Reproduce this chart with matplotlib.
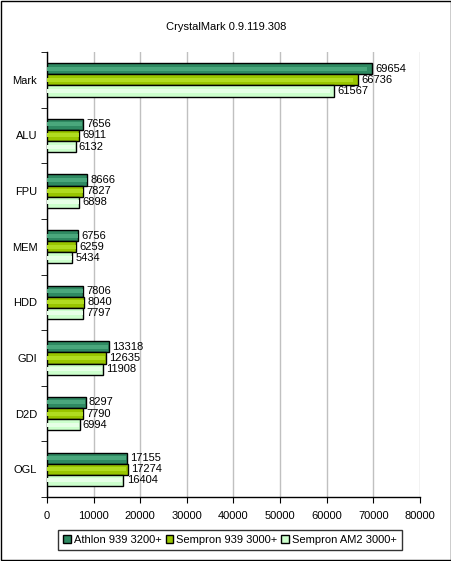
import matplotlib
matplotlib.use("Agg")
import matplotlib.pyplot as plt
import numpy as np

plt.rcParams['font.family'] = ['Liberation Sans', 'DejaVu Sans']
plt.rcParams['font.size'] = 8

categories = ['Mark', 'ALU', 'FPU', 'MEM', 'HDD', 'GDI', 'D2D', 'OGL']
series_names = ['Athlon 939 3200+', 'Sempron 939 3000+', 'Sempron AM2 3000+']
athlon = [69654, 7656, 8666, 6756, 7806, 13318, 8297, 17155]
sempron939 = [66736, 6911, 7827, 6259, 8040, 12635, 7790, 17274]
sempronam2 = [61567, 6132, 6898, 5434, 7797, 11908, 6994, 16404]
colors = ['#2f8a62', '#99c600', '#ccffcc']
shine = ['#4aa77c', '#b0dc20', '#e6ffe6']

fig = plt.figure(figsize=(4.52, 5.61), dpi=100)
ax = fig.add_axes([47/452, 1-497/561, (420-47)/452, (497-52)/561])

y = np.arange(len(categories))
h = 0.2
all_series = [athlon, sempron939, sempronam2]
for k, (vals, c, name) in enumerate(zip(all_series, colors, series_names)):
    pos = y + (k - 1) * h
    ax.barh(pos, vals, height=h, color=c, edgecolor='black', linewidth=1, label=name, zorder=3)
    # lighter stripe to mimic the shaded bar fill
    ax.barh(pos, np.array(vals) * 0.985, height=h * 0.35, color=shine[k], linewidth=0, zorder=3.5)
    for p, v in zip(pos, vals):
        ax.text(v + 700, p, str(v), va='center', ha='left', fontsize=8, zorder=4)

ax.set_ylim(len(categories) - 0.5, -0.5)
ax.set_xlim(0, 80000)
ax.set_xticks(np.arange(0, 80001, 10000))
ax.set_yticks(y)
ax.set_yticklabels(categories)
ax.set_yticks(np.arange(-0.5, len(categories), 1), minor=True)
ax.tick_params(axis='y', which='major', length=0, pad=7)
ax.tick_params(axis='y', which='minor', length=4, direction='out')
ax.tick_params(axis='x', length=4, direction='out', pad=6)
ax.grid(axis='x', color='#c0c0c0', linewidth=1, zorder=0)
ax.spines['top'].set_visible(False)
ax.spines['right'].set_visible(False)
for s in ['left', 'bottom']:
    ax.spines[s].set_linewidth(1)

fig.text(0.5, 1-27/561, 'CrystalMark 0.9.119.308', ha='center', va='center', fontsize=8)

leg = fig.legend(loc='center', bbox_to_anchor=(230/452, 1-540/561), ncol=3, frameon=True,
                 fancybox=False, edgecolor='black', handlelength=0.7, handleheight=0.7,
                 handletextpad=0.25, columnspacing=0.35, borderpad=0.45, borderaxespad=0,
                 fontsize=8)
leg.get_frame().set_linewidth(1)

fig.patches.append(plt.Rectangle((0.002, 0.002), 0.996, 0.996, transform=fig.transFigure,
                                 fill=False, edgecolor='black', linewidth=1))
fig.savefig('out.png', dpi=100)
